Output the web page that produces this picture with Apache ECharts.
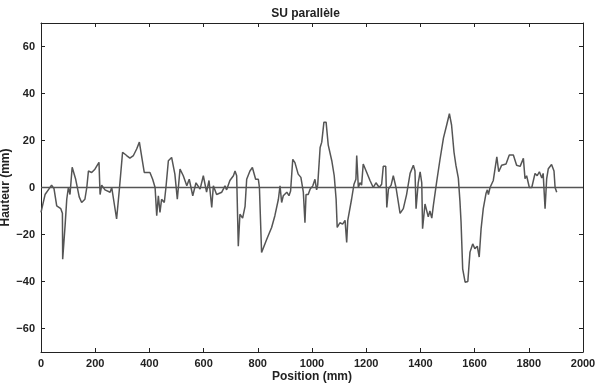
<!DOCTYPE html>
<html>
<head>
<meta charset="utf-8">
<script src="https://cdn.jsdelivr.net/npm/echarts@6/dist/echarts.min.js"></script>
<style>
  html, body { margin: 0; padding: 0; background: #fff; }
  #main { width: 611px; height: 388px; }
</style>
</head>
<body>
<div id="main"></div>
<script>
const positions = [0, 15, 27, 39, 48, 58, 73, 79, 80, 89, 95, 101, 107, 115, 128, 141, 150, 162, 169, 175,
  187, 199, 214, 218, 224, 236, 255, 261, 279, 289, 301, 316, 328, 341, 353, 363, 372, 381, 402, 412,
  421, 427, 433, 439, 445, 455, 461, 470, 482, 494, 503, 513, 525, 538, 547, 560, 572, 587, 599, 611,
  620, 630, 636, 648, 667, 679, 685, 697, 710, 716, 722, 728, 734, 744, 753, 759, 771, 780, 792, 802,
  806, 814, 833, 851, 863, 876, 882, 888, 894, 900, 907, 915, 921, 929, 937, 949, 959, 968, 974, 978,
  986, 993, 1003, 1011, 1017, 1021, 1030, 1036, 1044, 1052, 1060, 1073, 1082, 1089, 1093, 1103, 1113, 1122, 1128, 1132,
  1146, 1155, 1162, 1165, 1171, 1177, 1183, 1189, 1202, 1214, 1226, 1236, 1248, 1257, 1263, 1272, 1276, 1282, 1292, 1300,
  1310, 1325, 1337, 1349, 1362, 1374, 1380, 1384, 1392, 1399, 1405, 1408, 1417, 1423, 1429, 1435, 1442, 1448, 1460, 1472,
  1485, 1497, 1507, 1515, 1524, 1531, 1540, 1546, 1550, 1556, 1565, 1575, 1583, 1593, 1601, 1610, 1617, 1624, 1632, 1642,
  1647, 1651, 1657, 1669, 1682, 1689, 1700, 1716, 1728, 1743, 1755, 1768, 1780, 1786, 1792, 1802, 1811, 1823, 1831, 1839,
  1848, 1853, 1860, 1866, 1872, 1884, 1893, 1897, 1903];
const heights = [-10.6, -3, -1, 1, -0.5, -7.8, -9, -11, -30.5, -16, -5, 0, -3, 8.6, 3.5, -4, -6.4, -5, 0, 7,
  6.4, 7.8, 10.7, -3, 1, -1, -2, 0, -13.4, -1, 15, 13.6, 12.5, 13.6, 16.4, 19.3, 12.8, 6.4, 6.4, 3.5,
  0, -12, -3.5, -10.6, -5, -6.4, 0, 11.4, 12.8, 5.7, -5, 7.8, 5, 0.7, 3.5, -3.5, 2, -0.7, 5, -2,
  3, -8.5, 0.7, -3, -2, 0.7, -1, 3, 5, 7, 5, -25, -11.4, -13, -8, 3.5, 7, 8.5, 3.5, 3.5,
  0, -27.7, -22, -17, -12, -5, 0.7, -6.4, -3.5, -4, -2, -3.5, -1.5, 12, 10.6, 5.7, 4.3, -2, -15, -3,
  -3, -0.7, 0.7, 3.5, -1, 1, 17, 19.3, 27.8, 27.8, 18, 11.4, 5, -5, -17, -15, -15.6, -14, -23.4, -14,
  -5, 1.4, 3.5, 13.6, 0, 2, 1, 10, 6.4, 3, 0, 2, 0, 1.4, 9, 9, -8.5, -0.7, 1, 5,
  0, -11, -9, -3, 6, 9.5, 7, -9, 2, 6.7, 2, -17.5, -7, -7.5, -12.5, -10, -13, -7.5, 2.4, 11.7,
  21, 26.6, 31.4, 26.6, 15, 9.5, 4, -6, -14.7, -34.6, -40.3, -40, -27.5, -24, -26, -25, -29.6, -17.5, -9, -2.6,
  -1, -3, 0, 3, 13, 6.7, 9.5, 10, 13.8, 13.8, 9.5, 9, 12.4, 3.8, 5, 0, 0, 6, 5, 6.7,
  4, 6, -9, 3.8, 8, 9.8, 7, 0, -2];
const xTicks = [0, 200, 400, 600, 800, 1000, 1200, 1400, 1600, 1800, 2000];
const yTicks = [-60, -40, -20, 0, 20, 40, 60];
const zeroLine = [[0, 0], [2000, 0]];

const textFont = { fontFamily: 'Liberation Sans, Arial, sans-serif', color: '#222' };
const frameLine = { show: true, onZero: false, lineStyle: { color: '#222', width: 1 } };
const tickIn = { show: true, inside: true, length: 4, lineStyle: { color: '#222' } };
const minus = v => String(v).replace('-', '\u2212');

var myChart = echarts.init(document.getElementById('main'));

const options = {
  animation: false,
  title: {
    text: 'SU parallèle',
    left: 'center',
    top: 3,
    textStyle: Object.assign({ fontSize: 12, fontWeight: 'bold' }, textFont)
  },
  grid: { left: 41, right: 28, top: 23, bottom: 36, outerBoundsMode: 'none', containLabel: false },
  xAxis: [
    {
      type: 'value', min: 0, max: 2000,
      name: 'Position (mm)', nameLocation: 'middle', nameGap: 19, nameMoveOverlap: false,
      nameTextStyle: Object.assign({ fontSize: 12, fontWeight: 'bold' }, textFont),
      axisLine: frameLine,
      axisTick: Object.assign({ customValues: xTicks }, tickIn),
      splitLine: { show: false },
      axisLabel: Object.assign({ fontSize: 11, fontWeight: 'bold', margin: 6, customValues: xTicks, formatter: v => String(v) }, textFont)
    },
    {
      type: 'value', min: 0, max: 2000, position: 'top',
      axisLine: frameLine,
      axisTick: Object.assign({ customValues: xTicks }, tickIn),
      splitLine: { show: false },
      axisLabel: { show: false }
    }
  ],
  yAxis: [
    {
      type: 'value', min: -70, max: 70,
      name: 'Hauteur (mm)', nameLocation: 'middle', nameGap: 29, nameRotate: 90, nameMoveOverlap: false,
      nameTextStyle: Object.assign({ fontSize: 12, fontWeight: 'bold' }, textFont),
      axisLine: frameLine,
      axisTick: Object.assign({ customValues: yTicks }, tickIn),
      splitLine: { show: false },
      axisLabel: Object.assign({ fontSize: 11, fontWeight: 'bold', margin: 6, customValues: yTicks, formatter: minus }, textFont)
    },
    {
      type: 'value', min: -70, max: 70, position: 'right',
      axisLine: frameLine,
      axisTick: Object.assign({ customValues: yTicks }, tickIn),
      splitLine: { show: false },
      axisLabel: { show: false }
    }
  ],
  series: [
    {
      type: 'line', data: zeroLine, symbol: 'none', silent: true,
      lineStyle: { color: '#555', width: 1.5 }
    },
    {
      type: 'line', data: positions.map((p, i) => [p, heights[i]]),
      symbol: 'none', silent: true,
      lineStyle: { color: '#555', width: 1.5 }
    }
  ]
};

myChart.setOption(options);
</script>
</body>
</html>
